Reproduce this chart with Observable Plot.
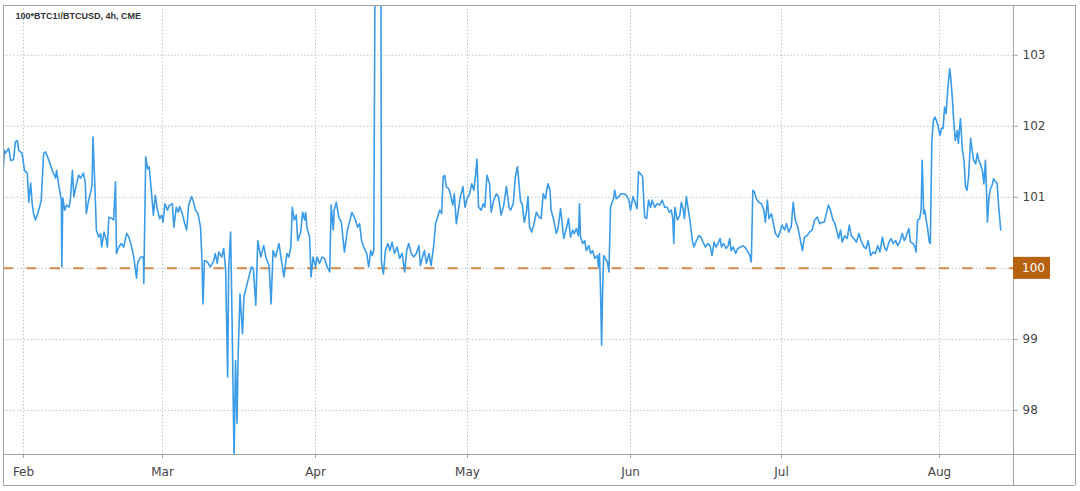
<!DOCTYPE html>
<html><head><meta charset="utf-8">
<script src="https://cdn.jsdelivr.net/npm/d3@7"></script>
<script src="https://cdn.jsdelivr.net/npm/@observablehq/plot@0.6"></script>
<style>
html,body{margin:0;padding:0;background:#fff;}
#chart svg{display:block}
</style></head><body><div id="chart"></div>
<script>
// ---- data (x = days since 2020-02-01, y = 100*BTC1!/BTCUSD) ----
const title = "100*BTC1!/BTCUSD, 4h, CME";
const monthLabels = ["Feb","Mar","Apr","May","Jun","Jul","Aug"];
const monthDays = [0,29,60,90,121,151,182];
const yTicks = [98,99,100,101,102,103];
const parity = 100;

const febData = [[-4.2,101.43],[-4.0,101.66],[-3.8,101.62],[-3.1,101.69],[-2.7,101.52],[-2.1,101.53],[-1.7,101.78],[-1.3,101.80],[-1.0,101.66],[-0.3,101.62],
[0.2,101.38],[0.8,101.34],[1.1,100.93],[1.5,101.20],[1.8,100.92],[2.1,100.77],[2.5,100.68],[3.2,100.82],[3.7,100.96],[4.2,101.62],[4.6,101.64],[5.3,101.52],[6.0,101.38],[6.7,101.27],[6.9,101.38],[7.4,101.15],[7.9,100.96],[8.0,100.02],[8.2,100.99],[8.6,100.82],[9.0,100.89],[9.5,100.86],[9.8,100.99],[10.2,101.38],[10.5,101.01],[11.1,101.20],[11.5,101.31],[11.9,101.27],[12.5,101.34],[12.9,101.20],[13.1,100.77],[13.6,100.96],[14.1,101.10],[14.3,101.17],[14.5,101.85],[14.9,101.15],[15.2,100.54],[15.7,100.44],[16.1,100.49],[16.3,100.30],[16.8,100.51],[17.3,100.39],[17.5,100.30],[17.8,100.72],[18.5,100.70],[18.8,100.68],[19.2,101.22],[19.4,100.21],[19.9,100.30],[20.4,100.35],[20.9,100.30],[21.5,100.49],[22.0,100.44],[22.5,100.32],[23.0,100.16],[23.6,99.86],[23.8,100.07],[24.4,100.16],[25.0,100.16],[25.1,99.79],[25.3,100.68],[25.5,101.57],[25.9,101.40],[26.2,101.43],[26.6,101.15],[27.1,100.75],[27.5,101.03],[27.9,100.84],[28.4,100.70],[28.8,100.75]];

const marData = [[29.1,100.65],[29.5,100.91],[30.0,100.82],[30.4,100.89],[31.0,100.91],[31.3,100.58],[31.8,100.86],[32.2,100.79],[32.5,100.87],[33.0,100.77],[33.5,100.63],[33.9,100.54],[34.3,100.89],[34.9,101.01],[35.3,100.93],[35.7,100.82],[36.2,100.77],[36.7,100.58],[37.0,100.11],[37.2,99.50],[37.5,100.11],[38.1,100.09],[38.7,100.02],[39.4,100.11],[39.7,100.21],[40.1,100.07],[40.4,100.23],[41.0,100.16],[41.4,100.28],[41.8,99.97],[42.2,98.47],[42.4,99.97],[42.8,100.51],[43.1,99.27],[43.5,97.33],[43.8,98.70],[44.1,97.82],[44.3,98.70],[44.7,99.64],[45.2,99.08],[45.5,99.60],[46.0,99.74],[46.5,99.88],[47.0,100.02],[47.4,100.00],[47.9,99.48],[48.3,100.39],[48.9,100.16],[49.5,100.32],[50.0,100.14],[50.6,100.04],[51.0,99.50],[51.4,100.25],[51.9,100.16],[52.6,100.35],[53.1,100.11],[53.6,99.88],[54.2,100.21],[54.6,100.16],[55.0,100.30],[55.3,100.86],[55.7,100.68],[56.1,100.75],[56.4,100.39],[57.0,100.51],[57.4,100.79],[57.8,100.68],[58.0,100.79],[58.3,100.56],[58.8,100.44],[59.1,99.88],[59.5,100.16]];

const aprData = [[60.0,100.02],[60.3,100.16],[60.8,100.07],[61.3,100.16],[61.8,100.14],[62.3,100.02],[62.8,99.95],[63.1,100.89],[63.5,100.54],[63.7,100.82],[64.1,100.93],[64.6,100.72],[65.1,100.65],[65.7,100.23],[66.3,100.54],[66.8,100.68],[67.2,100.79],[67.9,100.68],[68.3,100.58],[68.7,100.63],[69.1,100.39],[69.5,100.30],[70.1,100.21],[70.5,100.02],[70.9,100.25],[71.2,100.18],[71.5,100.25],[71.8,105.0],[72.9,105.0],[73.0,100.10],[73.4,99.92],[73.8,100.25],[74.3,100.35],[74.7,100.25],[75.1,100.37],[75.6,100.21],[76.1,100.30],[76.6,100.14],[77.1,100.21],[77.6,99.95],[78.0,100.25],[78.4,100.35],[78.9,100.21],[79.4,100.16],[79.9,100.21],[80.4,100.32],[80.7,100.04],[81.2,100.18],[81.5,100.25],[81.9,100.07],[82.4,100.21],[82.8,100.04],[83.3,100.30],[83.7,100.63],[84.1,100.72],[84.5,100.82],[84.9,100.77],[85.2,101.29],[85.5,101.31],[85.8,101.15],[86.3,101.12],[86.6,101.05],[87.1,100.89],[87.4,101.05],[87.8,100.63],[88.1,100.77],[88.6,101.01],[89.1,101.15],[89.5,100.86],[89.9,100.98]];

const mayData = [[90.4,101.05],[90.8,101.19],[91.2,101.10],[91.5,101.29],[91.8,101.54],[92.1,100.86],[92.6,100.82],[93.0,100.91],[93.3,100.86],[93.7,101.31],[94.2,101.19],[94.5,100.79],[95.0,100.96],[95.5,101.05],[95.9,101.01],[96.4,100.75],[96.9,100.89],[97.4,101.15],[97.9,100.86],[98.2,100.82],[98.7,100.91],[99.1,101.29],[99.5,101.43],[99.8,101.19],[100.1,100.93],[100.4,100.91],[100.8,100.65],[101.2,100.79],[101.5,101.01],[101.8,100.58],[102.2,100.51],[102.6,100.61],[103.1,100.79],[103.6,100.72],[104.0,100.70],[104.4,101.05],[104.8,100.98],[105.3,101.19],[105.7,101.10],[105.9,100.82],[106.4,100.68],[106.9,100.49],[107.2,100.56],[107.7,100.84],[108.0,100.63],[108.3,100.42],[108.8,100.56],[109.2,100.70],[109.6,100.44],[110.0,100.54],[110.3,100.49],[110.7,100.56],[111.1,100.46],[111.3,100.91],[111.5,100.44],[111.9,100.35],[112.3,100.39],[112.6,100.25],[113.1,100.32],[113.4,100.21],[113.8,100.25],[114.2,100.14],[114.7,100.18],[114.9,100.02],[115.1,100.21],[115.3,99.69],[115.5,98.92],[115.7,99.69],[115.9,100.18],[116.2,100.14],[116.6,100.09],[116.9,99.95],[117.2,100.86],[117.5,100.93],[117.8,100.98],[118.0,101.10],[118.3,100.98],[118.8,101.01],[119.2,101.05],[119.7,101.05],[120.2,101.03],[120.7,100.96]];

const junData = [[121.0,100.82],[121.5,101.01],[122.0,100.91],[122.3,100.84],[122.6,101.36],[123.0,101.33],[123.4,101.29],[123.8,100.72],[124.2,100.70],[124.6,100.96],[125.0,100.86],[125.3,100.96],[125.8,100.86],[126.3,100.91],[126.8,100.89],[127.3,100.96],[127.8,100.86],[128.3,100.86],[128.7,100.79],[129.1,100.82],[129.4,100.70],[129.6,100.35],[129.8,100.86],[130.3,100.68],[130.8,100.75],[131.1,100.93],[131.5,100.82],[131.7,100.70],[132.1,101.01],[132.5,100.82],[132.9,100.63],[133.3,100.39],[133.6,100.30],[134.1,100.39],[134.6,100.46],[135.0,100.44],[135.4,100.37],[135.9,100.30],[136.4,100.35],[136.8,100.32],[137.2,100.18],[137.6,100.37],[138.0,100.30],[138.4,100.35],[138.8,100.42],[139.1,100.30],[139.5,100.35],[140.0,100.28],[140.4,100.32],[140.7,100.42],[141.0,100.25],[141.4,100.30],[141.9,100.21],[142.3,100.28],[142.9,100.30],[143.3,100.32],[143.7,100.30],[144.2,100.25],[144.7,100.18],[145.0,100.09],[145.3,101.10],[145.6,101.08],[146.0,100.98],[146.5,100.93],[147.0,100.91],[147.5,100.82],[147.8,100.65],[148.2,100.96],[148.5,100.70],[149.0,100.77],[149.4,100.63],[149.8,100.49],[150.3,100.44],[150.7,100.51]];

const julData = [[151.1,100.61],[151.6,100.54],[152.0,100.63],[152.4,100.51],[152.9,100.58],[153.3,100.93],[153.7,100.68],[154.2,100.58],[154.6,100.44],[155.1,100.25],[155.5,100.44],[156.0,100.46],[156.5,100.51],[157.0,100.54],[157.5,100.68],[158.0,100.72],[158.5,100.63],[159.0,100.65],[159.4,100.65],[159.8,100.77],[160.2,100.89],[160.6,100.82],[161.1,100.68],[161.5,100.63],[161.9,100.51],[162.2,100.42],[162.6,100.54],[162.9,100.37],[163.4,100.46],[163.9,100.42],[164.3,100.61],[164.7,100.46],[165.2,100.42],[165.7,100.37],[166.2,100.49],[166.6,100.39],[167.2,100.30],[167.6,100.28],[168.0,100.39],[168.5,100.18],[169.0,100.23],[169.4,100.21],[169.9,100.32],[170.3,100.23],[170.8,100.44],[171.2,100.30],[171.6,100.25],[172.1,100.37],[172.5,100.42],[172.9,100.35],[173.4,100.39],[173.8,100.32],[174.2,100.37],[174.7,100.49],[175.1,100.39],[175.5,100.46],[176.0,100.56],[176.3,100.37],[176.8,100.35],[177.2,100.30],[177.4,100.23],[177.7,100.68],[178.1,100.70],[178.4,100.82],[178.6,101.52],[178.9,100.77],[179.1,100.82],[179.4,100.68],[179.7,100.54],[180.0,100.37],[180.2,100.35],[180.5,101.80],[180.8,102.08],[181.1,102.13],[181.4,102.08],[181.7,102.01]];

const augData = [[182.1,101.87],[182.4,101.97],[182.7,101.97],[183.0,102.27],[183.3,102.18],[183.6,102.51],[184.0,102.81],[184.2,102.69],[184.5,102.41],[184.8,102.06],[185.1,101.80],[185.5,101.94],[185.7,101.76],[185.9,101.94],[186.1,102.11],[186.5,101.66],[186.8,101.52],[187.1,101.15],[187.4,101.10],[187.7,101.29],[188.1,101.83],[188.4,101.66],[188.7,101.52],[189.1,101.47],[189.4,101.62],[189.7,101.52],[190.0,101.47],[190.4,101.38],[190.7,101.19],[191.0,101.52],[191.2,101.10],[191.4,100.65],[191.7,101.01],[192.0,101.12],[192.3,101.17],[192.6,101.26],[193.0,101.22],[193.3,101.19],[193.6,100.86],[194.0,100.54]];

const series = [...febData, ...marData, ...aprData, ...mayData, ...junData, ...julData, ...augData]
  .map(([day, ratio]) => ({day, ratio}));

// ---- layout ----
const W = 1080, H = 491;
const mTop = 5, mBottom = 37, mLeft = 3, mRight = 67;
const xDomain = [-4.2, ...monthDays, 196.5];
const xRange = [3, 23, 162, 315, 467, 630, 781, 939, 1013];
const borderColor = "#a4a4a4";
const gridColor = "#bcc6cf";
const textColor = "#454545";

function decorations(index, scales, values, dims) {
  const g = d3.create("svg:g");
  const L = dims.marginLeft, T = dims.marginTop;
  const R = dims.width - dims.marginRight, B = dims.height - dims.marginBottom;
  const outerR = dims.width - 5, outerB = dims.height - 6;
  const line = (x1, y1, x2, y2) => g.append("line")
    .attr("x1", x1).attr("y1", y1).attr("x2", x2).attr("y2", y2)
    .attr("stroke", borderColor).attr("stroke-width", 1).attr("shape-rendering", "crispEdges");
  line(L, T, outerR, T);
  line(L, B, outerR, B);
  line(L, outerB, outerR, outerB);
  line(L, T, L, outerB);
  line(R, T, R, outerB);
  line(outerR, T, outerR, outerB);
  // price tag at the parity line
  const yy = scales.y(parity);
  g.append("rect").attr("x", R).attr("y", yy - 11).attr("width", 37).attr("height", 22).attr("fill", "#b6620f");
  g.append("text").attr("x", R + 9).attr("y", yy).attr("dy", "0.35em")
    .attr("text-anchor", "start")
    .attr("fill", "#fff").attr("font-size", 12).attr("font-family", "DejaVu Sans, sans-serif")
    .text(String(parity));
  return g.node();
}

const chart = Plot.plot({
  width: W, height: H,
  marginTop: mTop, marginBottom: mBottom, marginLeft: mLeft, marginRight: mRight,
  style: {background: "#fff", fontFamily: "DejaVu Sans, sans-serif", fontSize: "12px", color: textColor},
  x: {type: "linear", domain: xDomain, range: xRange, label: null},
  y: {domain: [97.38, 103.70], label: null},
  marks: [
    Plot.gridY({ticks: yTicks, stroke: gridColor, strokeOpacity: 1, strokeDasharray: "1.5,2"}),
    Plot.gridX({ticks: monthDays, stroke: gridColor, strokeOpacity: 1, strokeDasharray: "1.5,2"}),
    Plot.ruleY([parity], {stroke: "#d4894b", strokeWidth: 2, strokeDasharray: "10,13.4"}),
    Plot.line(series, {x: "day", y: "ratio", stroke: "#3a9be6", strokeWidth: 1.6, clip: true}),
    Plot.axisY({ticks: yTicks.filter(d => d !== parity), tickFormat: d => String(d), anchor: "right", tickSize: 4, tickPadding: 5, stroke: borderColor, fill: textColor, fontSize: 12, label: null}),
    Plot.axisX({ticks: monthDays, tickFormat: d => monthLabels[monthDays.indexOf(d)], tickSize: 4, tickPadding: 9, stroke: borderColor, fill: textColor, fontSize: 12, label: null}),
    Plot.text([title], {text: d => d, frameAnchor: "top-left", dx: 12, dy: 7, textAnchor: "start", lineAnchor: "top", fontSize: 9, fontWeight: "bold", fontFamily: "Liberation Sans, Arial, sans-serif", fill: "#333"}),
    decorations
  ]
});
document.getElementById("chart").appendChild(chart);
</script>
</body></html>
